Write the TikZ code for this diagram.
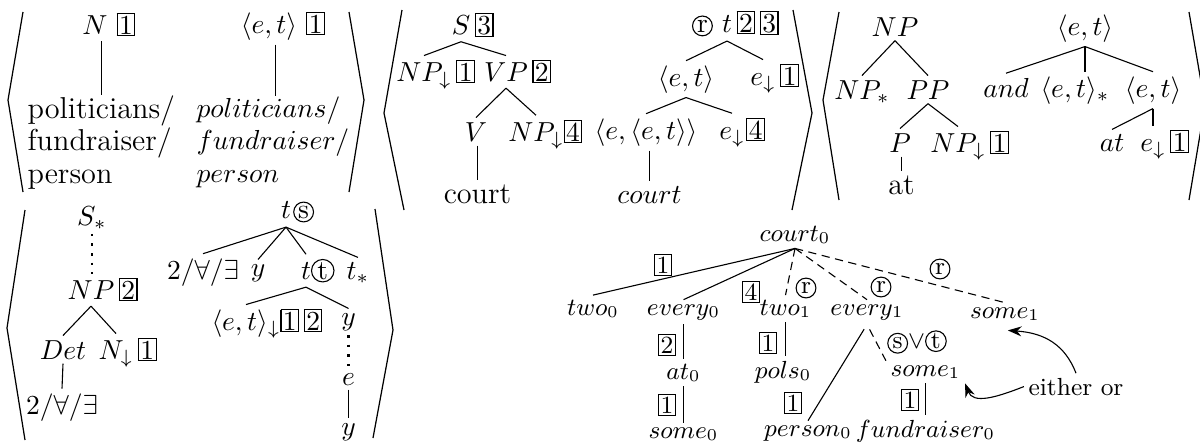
\documentclass[tikz,border=0pt]{standalone}
\usetikzlibrary{arrows.meta}
\newcommand\bx[1]{{\setlength{\fboxsep}{0.5pt}\setlength{\fboxrule}{0.4pt}\fbox{#1}}}
\newcommand\cir[1]{\tikz[baseline=(cirnode.base)]\node[circle,draw,line width=0.4pt,inner sep=0.3pt,minimum size=7.2pt](cirnode){#1};}
\begin{document}
\begin{tikzpicture}[x=0.3636pt, y=-0.3636pt,
  tn/.style={inner sep=1.5pt, anchor=base},
  rm/.style={font=\fontsize{11}{11.8}\selectfont},
  lb/.style={inner sep=0pt},
  dsh/.style={dash pattern=on 3pt off 2pt},
  dts/.style={line width=0.9pt, dash pattern=on 0.9pt off 2.6pt},
  brk/.style={line width=0.45pt, line join=miter},
  arr/.style={-{Stealth[length=5pt,width=3.6pt]}}]
\useasboundingbox (0,0) rectangle (1200,445);
% brackets
\draw[brk] (23,12) -- (8,100) -- (23,192);
\draw[brk] (349,12) -- (364,100) -- (349,192);
\draw[brk] (402,10) -- (384,113) -- (404,210);
\draw[brk] (793,10) -- (812,113) -- (792,210);
\draw[brk] (839,12) -- (823,100) -- (839,200);
\draw[brk] (1189,12) -- (1205,105) -- (1189,200);
\draw[brk] (25,210) -- (7,328) -- (25,440);
\draw[brk] (375,209) -- (393,330) -- (373,438);
% panel 1
\node[tn] (p1N) at (95,34) {$N$\rlap{\ \bx{1}}};
\node[tn] (p1T) at (269,33) {$\langle e,t\rangle$\rlap{\ \bx{1}}};
\node[rm, inner sep=0pt, anchor=north west, align=left] (p1w) at (27,95) {politicians/\\fundraiser/\\person};
\node[inner sep=0pt, anchor=north west, align=left, font=\fontsize{10}{11.8}\selectfont] (p1i) at (196,96) {$politicians/$\\$fundraiser/$\\$person$};
\draw ([xshift=2.4pt]p1N.south) -- ([xshift=2.4pt]p1N.south |- p1w.north);
\draw ([xshift=2.2pt]p1T.south) -- ([xshift=2.2pt]p1T.south |- p1i.north);
% panel 2 syntax
\node[tn] (p2S) at (461,34) {$S$\rlap{\,\bx{3}}};
\node[tn] (p2NP) at (424,81) {$NP_\downarrow$\rlap{\,\bx{1}}};
\node[tn] (p2VP) at (506,81) {$VP$\rlap{\,\bx{2}}};
\node[tn] (p2V) at (476,141) {$V$};
\node[tn] (p2NPb) at (536,141) {$NP_\downarrow$\rlap{\bx{4}}};
\node[tn, rm] (p2court) at (477.5,203) {court};
\draw (p2S.south) -- (p2NP.north);
\draw (p2S.south) -- (p2VP.north);
\draw (p2VP.south) -- (p2V.north);
\draw (p2VP.south) -- (p2NPb.north);
\draw (p2court.north |- p2V.south) -- (p2court.north);
% panel 2 semantics
\node[tn] (p2t) at (727,32) {\llap{\cir{r}\ }$t$\rlap{\,\bx{2}\,\bx{3}}};
\node[tn] (p2et) at (686,86) {$\langle e,t\rangle$};
\node[tn] (p2e1) at (763,85) {$e_\downarrow$\rlap{\,\bx{1}}};
\node[tn] (p2eet) at (646,139) {$\langle e,\langle e,t\rangle\rangle$};
\node[tn] (p2e4) at (732,139) {$e_\downarrow$\rlap{\kern0.6pt\bx{4}}};
\node[tn] (p2ct) at (649.5,203) {$court$};
\draw (p2t.south) -- (p2et.north);
\draw (p2t.south) -- (p2e1.north);
\draw (p2et.south) -- (p2eet.north);
\draw (p2et.south) -- (p2e4.north);
\draw (p2ct.north |- p2eet.south) -- (p2ct.north);
% panel 3
\node[tn] (p3NP) at (895,36) {$NP$};
\node[tn] (p3NPs) at (862,99) {$NP_*$};
\node[tn] (p3PP) at (928,99) {$PP$};
\node[tn] (p3P) at (900,152) {$P$};
\node[tn] (p3NPd) at (958,152) {$NP_\downarrow$\rlap{\,\bx{1}}};
\node[tn, rm] (p3at) at (901.5,194) {at};
\draw (p3NP.south) -- (p3NPs.north);
\draw (p3NP.south) -- (p3PP.north);
\draw (p3PP.south) -- (p3P.north);
\draw (p3PP.south) -- (p3NPd.north);
\draw (p3at.north |- p3P.south) -- (p3at.north);
\node[tn] (p3et) at (1085,35) {$\langle e,t\rangle$};
\node[tn] (p3and) at (1006,97) {$and$};
\node[tn] (p3ets) at (1075,97) {$\langle e,t\rangle_*$};
\node[tn] (p3et2) at (1153,97) {$\langle e,t\rangle$};
\node[tn] (p3at2) at (1112,151) {$at$};
\node[tn] (p3e1) at (1153,151) {$e_\downarrow$\rlap{\,\bx{1}}};
\draw (p3et.south) -- (p3and.north);
\draw (p3et.south) -- (p3et.south |- p3ets.north);
\draw (p3et.south) -- (p3et2.north);
\draw (p3et2.south) -- (p3at2.north);
\draw (p3et2.south) -- (p3e1.north);
% panel 4
\node[tn] (p4S) at (92,225) {$S_*$};
\node[tn] (p4NP) at (91,299) {$NP$\rlap{\,\bx{2}}};
\node[tn] (p4Det) at (63,359) {$Det$};
\node[tn] (p4N) at (116,359) {$N_\downarrow$\rlap{\,\bx{1}}};
\node[tn] (p4q) at (62,414) {$2/\forall/\exists$};
\draw[dts] (p4S.south) -- (p4S.south |- p4NP.north);
\draw (p4NP.south) -- (p4Det.north);
\draw (p4NP.south) -- (p4N.north);
\draw (p4Det.south) -- (p4q.north);
\node[tn] (p4t) at (286,218) {$t$\rlap{\kern0.8pt\cir{s}}};
\node[tn] (p4q2) at (203,279) {$2/\forall/\exists$};
\node[tn] (p4y) at (258,276) {$y$};
\node[tn] (p4tt) at (306,279) {$t$\rlap{\cir{t}}};
\node[tn] (p4ts) at (358,279) {$t_*$};
\node[tn] (p4et) at (246,330) {$\langle e,t\rangle_\downarrow$\rlap{\bx{1}\,\bx{2}}};
\node[tn] (p4y2) at (348.5,325) {$y$};
\node[tn] (p4e) at (348.5,385) {$e$};
\node[tn] (p4y3) at (348.5,435) {$y$};
\draw (p4t.south) -- (p4q2.north);
\draw (p4t.south) -- (p4y.north);
\draw (p4t.south) -- (p4tt.north);
\draw (p4t.south) -- (p4ts.north);
\draw (p4tt.south) -- (p4et.north);
\draw (p4tt.south) -- (p4y2.north);
\draw[dts] (p4y2.south) -- (p4e.north);
\draw (p4e.south) -- (p4y3.north);
% panel 5
\begin{scope}[font=\small]
\node[tn] (p5c) at (795,241) {$court_0$};
\node[tn] (p5two0) at (593,315) {$two_0$};
\node[tn] (p5ev0) at (683.5,315) {$every_0$};
\node[tn] (p5two1) at (785.5,315) {$two_1$};
\node[tn] (p5ev1) at (867,315) {$every_1$};
\node[tn] (p5so1) at (1005,318) {$some_1$};
\node[tn] (p5at0) at (683.5,379) {$at_0$};
\node[tn] (p5so0) at (683.5,438) {$some_0$};
\node[tn] (p5pols) at (783,378) {$pols_0$};
\node[tn] (p5per) at (808,436) {$person_0$};
\node[tn] (p5so1b) at (925.5,376) {$some_1$};
\node[tn] (p5fund) at (925.5,437) {$fundraiser_0$};
\node[tn] (p5eo) at (1076,395) {either or};
\node[lb] (l1) at (663,265) {\bx{1}};
\node[lb] (l4) at (751,292) {\bx{4}};
\node[lb] (lr1) at (806,288) {\cir{r}};
\node[lb] (lr2) at (881,287) {\cir{r}};
\node[lb] (lr3) at (940,269) {\cir{r}};
\node[lb] (l2a) at (667,345) {\bx{2}};
\node[lb] (l1b) at (667,405) {\bx{1}};
\node[lb] (l1c) at (768,343) {\bx{1}};
\node[lb] (l1d) at (793,403) {\bx{1}};
\node[lb] (lst) at (917,342) {\cir{s}$\vee$\cir{t}};
\node[lb] (l1e) at (910,400) {\bx{1}};
\end{scope}
\draw (p5c.south) -- (p5two0.north);
\draw (p5c.south) -- (p5ev0.north);
\draw[dsh] (p5c.south) -- (p5two1.north);
\draw[dsh] (p5c.south) -- (p5ev1.north);
\draw[dsh] (p5c.south) -- (p5so1.north);
\draw (p5ev0.south) -- (p5at0.north);
\draw (p5at0.south) -- (p5so0.north);
\draw (p5two1.south) -- (p5two1.south |- p5pols.north);
\draw[shorten <=2pt] (p5ev1.south) -- (p5per.north);
\draw[dsh, shorten <=2pt] (p5ev1.south) -- (p5so1b.north west);
\draw (p5so1b.south) -- (p5fund.north);
\draw[arr] (p5eo.north) .. controls (1065,345) and (1045,333) .. ([xshift=1pt,yshift=-1.8pt]p5so1.south);
\draw[arr] (p5eo.west) .. controls (995,398) and (973,404) .. (p5so1b.south east);
\end{tikzpicture}
\end{document}
